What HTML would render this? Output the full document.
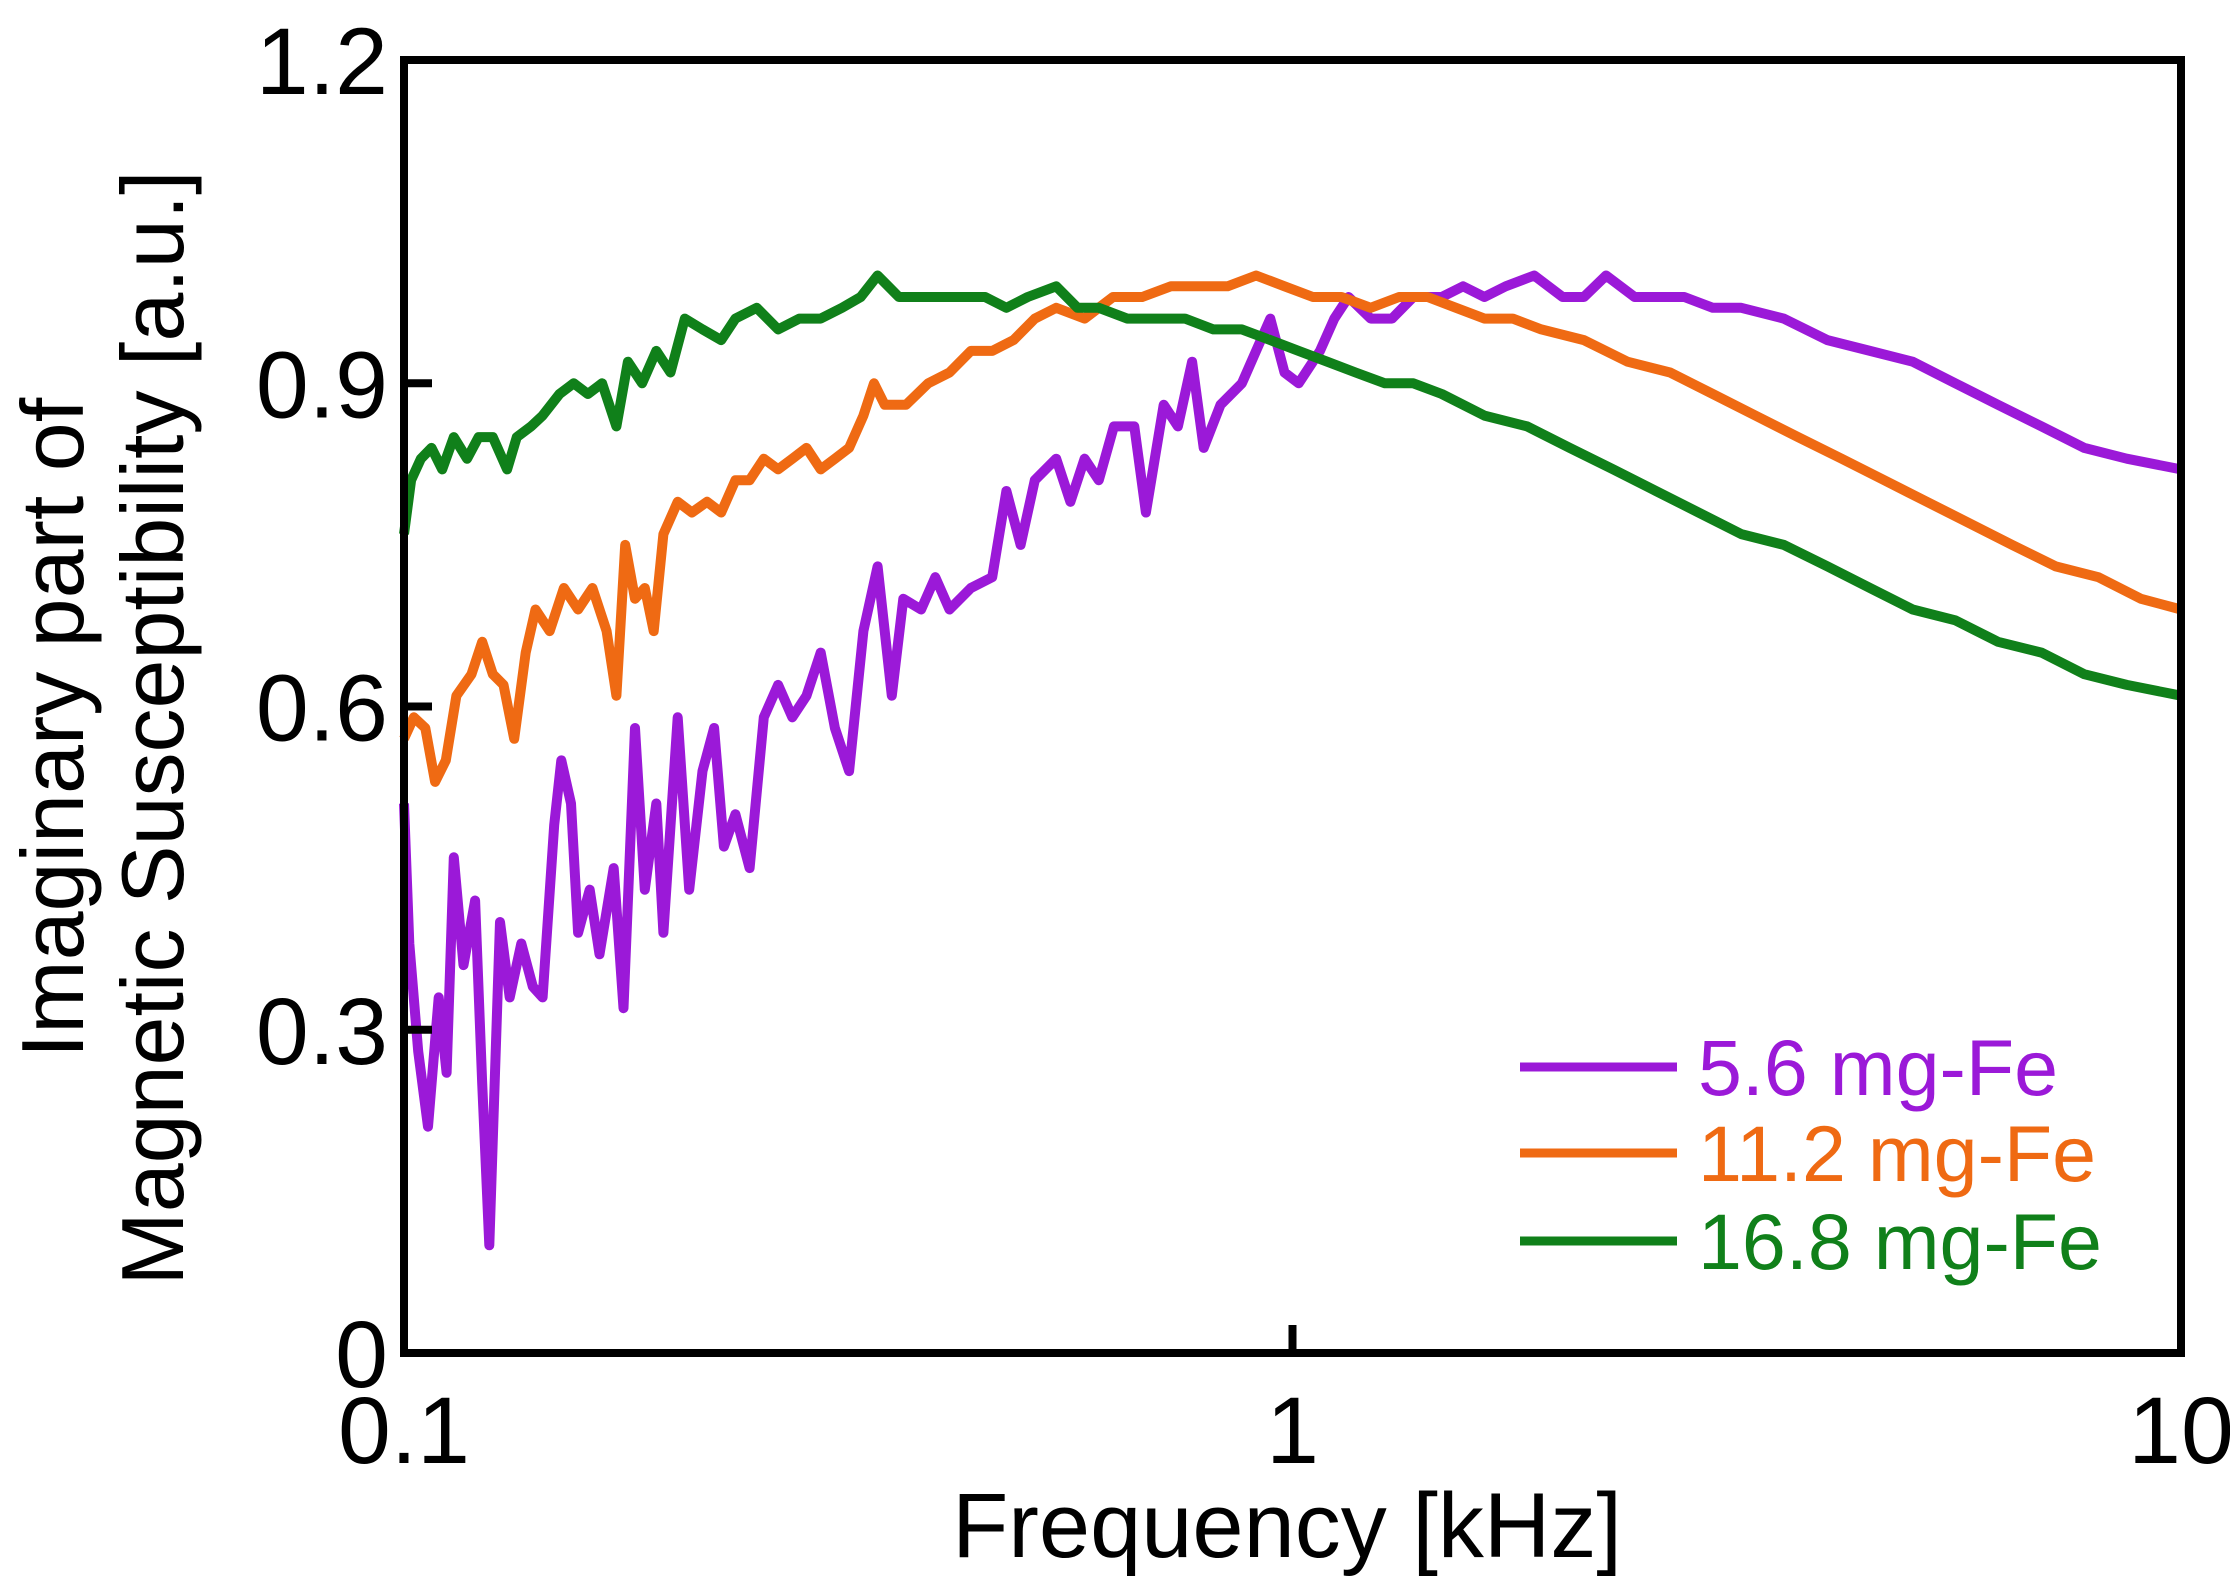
<!DOCTYPE html>
<html><head><meta charset="utf-8"><style>
html,body{margin:0;padding:0;background:#fff;}
svg{display:block;font-family:"Liberation Sans",sans-serif;}
</style></head><body>
<svg id="chart" width="2230" height="1582" viewBox="0 0 2230 1582">
<g id="series"></g>
<rect x="404" y="60" width="1777" height="1293" fill="none" stroke="#000" stroke-width="8"/>
<g id="axes"></g>
<text x="1287" y="1557" font-size="92" text-anchor="middle">Frequency [kHz]</text>
<g transform="translate(53,728) rotate(-90)">
<text x="0" y="30" font-size="88" text-anchor="middle">Imaginary part of</text>
<text x="0" y="130" font-size="88" text-anchor="middle">Magnetic Susceptibility [a.u.]</text>
</g>
<g id="legend"></g>
</svg>
<script>
const xTickValues=[0.1,1,10];
const xTickLabels=["0.1","1","10"];
const yTickValues=[0,0.3,0.6,0.9,1.2];
const yTickLabels=["0","0.3","0.6","0.9","1.2"];
const seriesNames=["5.6 mg-Fe","11.2 mg-Fe","16.8 mg-Fe"];
const seriesColors=["#9b19d8","#ef6a13","#10801a"];
const logF1=[-1,-0.994,-0.984,-0.973,-0.961,-0.952,-0.944,-0.933,-0.92,-0.912,-0.904,-0.892,-0.881,-0.868,-0.855,-0.844,-0.831,-0.823,-0.812,-0.804,-0.791,-0.78,-0.764,-0.753,-0.74,-0.729,-0.716,-0.708,-0.692,-0.679,-0.664,-0.651,-0.64,-0.627,-0.611,-0.595,-0.579,-0.563,-0.547,-0.531,-0.515,-0.499,-0.483,-0.467,-0.451,-0.438,-0.418,-0.402,-0.386,-0.362,-0.338,-0.322,-0.306,-0.29,-0.266,-0.25,-0.234,-0.218,-0.201,-0.178,-0.165,-0.145,-0.129,-0.113,-0.1,-0.081,-0.057,-0.041,-0.025,-0.009,0.007,0.031,0.047,0.063,0.088,0.112,0.136,0.168,0.192,0.216,0.24,0.272,0.304,0.328,0.353,0.385,0.417,0.441,0.473,0.505,0.553,0.602,0.65,0.698,0.746,0.794,0.843,0.891,0.939,1];
const val1=[0.51,0.38,0.28,0.21,0.33,0.26,0.46,0.36,0.42,0.25,0.10,0.40,0.33,0.38,0.34,0.33,0.49,0.55,0.51,0.39,0.43,0.37,0.45,0.32,0.58,0.43,0.51,0.39,0.59,0.43,0.54,0.58,0.47,0.50,0.45,0.59,0.62,0.59,0.61,0.65,0.58,0.54,0.67,0.73,0.61,0.70,0.69,0.72,0.69,0.71,0.72,0.80,0.75,0.81,0.83,0.79,0.83,0.81,0.86,0.86,0.78,0.88,0.86,0.92,0.84,0.88,0.90,0.93,0.96,0.91,0.90,0.93,0.96,0.98,0.96,0.96,0.98,0.98,0.99,0.98,0.99,1.00,0.98,0.98,1.00,0.98,0.98,0.98,0.97,0.97,0.96,0.94,0.93,0.92,0.90,0.88,0.86,0.84,0.83,0.82];
const logF2=[-1,-0.989,-0.976,-0.965,-0.953,-0.941,-0.924,-0.912,-0.9,-0.888,-0.876,-0.863,-0.852,-0.836,-0.82,-0.804,-0.788,-0.772,-0.761,-0.751,-0.74,-0.729,-0.719,-0.708,-0.692,-0.676,-0.659,-0.643,-0.627,-0.611,-0.595,-0.579,-0.563,-0.547,-0.531,-0.515,-0.499,-0.483,-0.471,-0.459,-0.435,-0.41,-0.386,-0.362,-0.338,-0.314,-0.29,-0.266,-0.234,-0.202,-0.169,-0.137,-0.105,-0.073,-0.041,-0.009,0.023,0.055,0.088,0.12,0.152,0.184,0.216,0.248,0.28,0.328,0.377,0.425,0.473,0.521,0.569,0.618,0.666,0.714,0.762,0.81,0.859,0.907,0.955,1];
const val2=[0.57,0.59,0.58,0.53,0.55,0.61,0.63,0.66,0.63,0.62,0.57,0.65,0.69,0.67,0.71,0.69,0.71,0.67,0.61,0.75,0.70,0.71,0.67,0.76,0.79,0.78,0.79,0.78,0.81,0.81,0.83,0.82,0.83,0.84,0.82,0.83,0.84,0.87,0.90,0.88,0.88,0.90,0.91,0.93,0.93,0.94,0.96,0.97,0.96,0.98,0.98,0.99,0.99,0.99,1.00,0.99,0.98,0.98,0.97,0.98,0.98,0.97,0.96,0.96,0.95,0.94,0.92,0.91,0.89,0.87,0.85,0.83,0.81,0.79,0.77,0.75,0.73,0.72,0.70,0.69];
const logF3=[-1,-0.992,-0.981,-0.969,-0.957,-0.944,-0.929,-0.916,-0.9,-0.884,-0.873,-0.857,-0.844,-0.825,-0.809,-0.793,-0.777,-0.761,-0.748,-0.732,-0.716,-0.7,-0.684,-0.664,-0.643,-0.627,-0.603,-0.579,-0.555,-0.531,-0.507,-0.486,-0.467,-0.443,-0.418,-0.394,-0.37,-0.346,-0.322,-0.298,-0.266,-0.242,-0.218,-0.186,-0.154,-0.121,-0.089,-0.057,-0.025,0.007,0.039,0.071,0.104,0.136,0.168,0.216,0.264,0.312,0.361,0.409,0.457,0.505,0.553,0.602,0.65,0.698,0.746,0.794,0.843,0.891,0.939,1];
const val3=[0.76,0.81,0.83,0.84,0.82,0.85,0.83,0.85,0.85,0.82,0.85,0.86,0.87,0.89,0.90,0.89,0.90,0.86,0.92,0.90,0.93,0.91,0.96,0.95,0.94,0.96,0.97,0.95,0.96,0.96,0.97,0.98,1.00,0.98,0.98,0.98,0.98,0.98,0.97,0.98,0.99,0.97,0.97,0.96,0.96,0.96,0.95,0.95,0.94,0.93,0.92,0.91,0.90,0.90,0.89,0.87,0.86,0.84,0.82,0.80,0.78,0.76,0.75,0.73,0.71,0.69,0.68,0.66,0.65,0.63,0.62,0.61];

const NS="http://www.w3.org/2000/svg";
const L=404,R=2181,T=60,B=1353;
function xLog(l){return L+(l+1)/2*(R-L);}
function xScale(f){return xLog(Math.log10(f));}
function yScale(v){return B-v/1.2*(B-T);}
function mk(tag,attrs,parent){const e=document.createElementNS(NS,tag);for(const k in attrs)e.setAttribute(k,attrs[k]);parent.appendChild(e);return e;}

const sg=document.getElementById('series');
[[logF1,val1],[logF2,val2],[logF3,val3]].forEach((s,i)=>{
  const d=s[0].map((l,j)=>(j?'L':'M')+xLog(l).toFixed(1)+','+yScale(s[1][j]).toFixed(1)).join(' ');
  const p=mk('path',{d:d,fill:'none',stroke:seriesColors[i],'stroke-width':10,'stroke-linejoin':'round'},sg);
  
  
});

const ax=document.getElementById('axes');
yTickValues.forEach((v,i)=>{
  const y=yScale(v);
  if(i>0&&i<yTickValues.length-1){
    const t=mk('line',{x1:L,x2:L+28,y1:y,y2:y,stroke:'#000','stroke-width':8},ax);
    
    
  }
  const tx=mk('text',{x:388,y:y+34,'font-size':95,'text-anchor':'end'},ax);
  tx.textContent=yTickLabels[i];
  
  
});
xTickValues.forEach((v,i)=>{
  const x=xScale(v);
  if(i>0&&i<xTickValues.length-1){
    const t=mk('line',{x1:x,x2:x,y1:B,y2:B-28,stroke:'#000','stroke-width':8},ax);
    
    
  }
  const tx=mk('text',{x:x,y:1463,'font-size':95,'text-anchor':'middle'},ax);
  tx.textContent=xTickLabels[i];
  
  
});

const lg=document.getElementById('legend');
const legY=[1067,1153,1241];
seriesNames.forEach((n,i)=>{
  const g=mk('g',{},lg);
  
  
  mk('line',{x1:1520,x2:1677,y1:legY[i],y2:legY[i],stroke:seriesColors[i],'stroke-width':9},g);
  const t=mk('text',{x:1698,y:legY[i]+28,'font-size':79,fill:seriesColors[i]},g);
  t.textContent=n;
});
</script>
</body></html>
